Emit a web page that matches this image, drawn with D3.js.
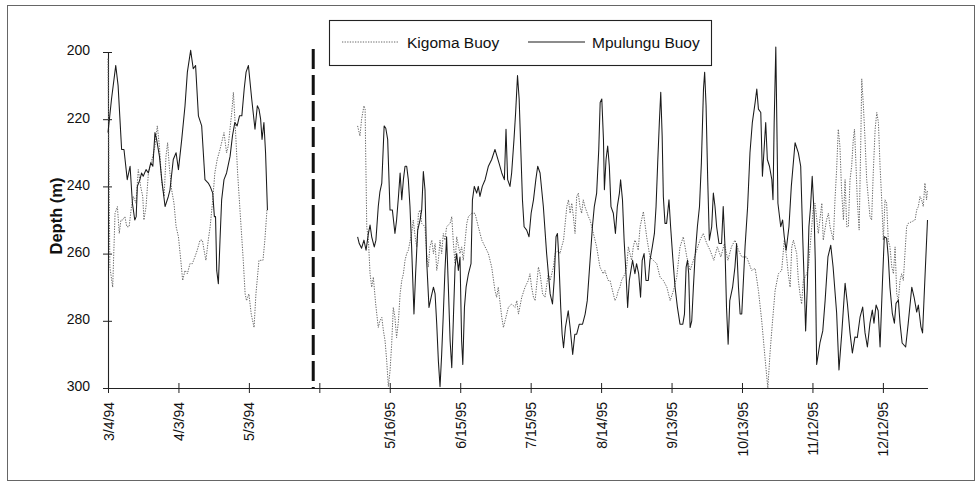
<!DOCTYPE html>
<html><head><meta charset="utf-8">
<script src="https://cdn.jsdelivr.net/npm/d3@7"></script>
<style>
html,body{margin:0;padding:0;background:#fff;}
svg{display:block;font-family:"Liberation Sans",Arial,Helvetica,sans-serif;}
</style></head><body>
<svg id="chart" width="976" height="482"></svg>
<script>
// Category axis: one category per day, labelled every 30 categories.
const tickLabels = ["3/4/94","4/3/94","5/3/94","","5/16/95","6/15/95","7/15/95","8/14/95","9/13/95","10/13/95","11/12/95","12/12/95"];
const tickEvery = 30;
const categoryCount = 350;
const yTicks = [200, 220, 240, 260, 280, 300];
const yTitle = "Depth (m)";
const seriesNames = ["Kigoma Buoy", "Mpulungu Buoy"];
// category position of the break between the 1994 and 1995 records
const breakCategory = 87.4;

// [category index, depth (m)]
const kigoma94 = [[0,202],[0.8,264],[2,270],[3,248],[4,246],[4.8,254],[5.5,250],[6.2,250],[7.2,249],[8,252],[9,252],[10,246],[10.8,243],[11.9,245],[12.9,235],[13.9,240],[14.8,243],[15.3,250],[16.2,246],[17.2,236],[17.9,234],[19.1,231],[20,228],[21,222],[21.9,228],[22.9,239],[23.9,243],[24.7,231],[25.4,227],[26.1,234],[27.1,241],[28.1,245],[29,252],[30,255],[31,262],[31.8,268],[32.8,265],[33.8,266],[34.9,263],[35.9,263],[37,261],[38,259],[39.2,256],[40.2,256],[40.9,259],[41.7,262],[42.7,256],[43.5,252],[44.6,244],[45.5,236],[46.5,232],[47.7,229],[49.4,224],[50.5,230],[51.2,228],[52.7,218],[53.4,212],[54.2,222],[55.2,236],[56.3,248],[57.6,262],[58.4,272],[59,274],[60,272],[61,278],[62.2,282],[63,272],[64.3,262],[65.2,262],[66,262],[66.8,256],[67.7,247]];
const mpulungu94 = [[0,224],[1.5,214],[3.3,204],[4.3,210],[5.8,229],[6.8,229],[8.2,238],[9.4,234],[10.4,245],[11.4,250],[12,249],[12.5,240],[13.6,238],[14.3,236],[15,237],[16.2,235],[17.2,236],[18.2,233],[19.1,234],[20,224],[20.7,226],[21.9,231],[22.9,238],[24.3,246],[25.7,243],[26.4,241],[27.8,232],[29,230],[30,235],[31.4,226],[32.8,216],[33.8,206],[35.2,199.5],[36.3,205],[37.3,204],[38.5,219],[39.9,222],[41.3,238],[42.7,239],[43.5,240],[44.6,242],[45.3,249],[45.8,249],[46.3,265],[47,269],[47.7,256],[48.4,244],[49.4,238],[50.5,236],[52,231],[53,225],[54,221],[55,222],[56,219],[57,219],[58,211],[58.8,206],[59.8,204],[61.2,214],[62.6,223],[63.6,216],[64.3,217],[65,220],[65.6,226],[66.4,221],[67.1,230],[67.9,247]];
const kigoma95 = [[106.3,222],[107.3,225],[108,220],[109,216],[109.5,217],[109.7,228],[110.2,252],[110.9,256],[111.6,266],[112.3,270],[113,267],[114,275],[115.1,282],[115.8,280],[116.6,279],[117.3,283],[118,286],[118.7,292],[119.4,299.6],[120.1,295],[120.8,287],[121.5,276],[122.2,279],[122.9,285],[123.7,280],[124.4,272],[125.1,268],[125.8,266],[126.5,262],[127.2,260],[127.9,259],[129.3,254],[130,250],[130.8,255],[131.5,258],[132.2,248],[132.9,247],[133.6,251],[135,252],[135.7,260],[136.4,264],[137.1,258],[137.9,256],[138.6,260],[139.3,257],[140,265],[140.7,262],[141.4,256],[142.1,260],[142.8,254],[143.5,256],[144.2,252],[145.7,251],[146.4,249],[147.1,257],[147.8,263],[148.5,255],[149.9,260],[150.6,258],[151.3,262],[152.1,256],[152.8,251],[153.5,249],[154.9,248],[156.3,248],[157.7,252],[159.2,256],[160.6,258],[162,260],[163.4,264],[164.8,271],[165.5,273],[166.2,270],[167.7,279],[168.4,282],[169.1,280],[169.8,278],[170.5,276],[171.9,275],[173.4,276],[174.1,274],[174.8,278],[176.2,273],[177.6,270],[179,268],[179.7,266],[180.4,270],[181.2,273],[181.9,274],[182.6,269],[183.3,264],[184,266],[185.1,272],[186.1,273],[187.5,266],[188.3,268],[189.7,264],[190.4,260],[191.8,259],[192.5,260],[193.2,258],[194,256],[195.4,246],[196.1,244],[196.8,248],[197.5,245],[198.2,249],[198.9,254],[199.6,243],[200.3,242],[201,246],[201.7,248],[202.4,244],[203.1,246],[204.6,249],[205.3,250],[206,252],[206.7,254],[207.4,256],[208.1,258],[208.8,261],[209.5,264],[210.2,265],[210.9,266],[211.6,265],[213,268],[213.8,268],[214.5,270],[215.2,272],[215.9,274],[216.6,273],[217.3,271],[218,270],[218.7,268],[220.2,266],[220.9,264],[221.6,258],[222.3,260],[223,262],[223.7,258],[224.4,256],[225.1,257],[225.8,259],[226.6,252],[228,247.5],[229.4,255],[230.8,261],[232.2,262],[233.7,263],[235.1,267],[236.5,268],[238,270],[239.4,274],[240.8,271],[242.2,267],[243.6,258],[245,255],[246.5,261],[247.9,265],[249.3,262],[250.7,259],[252.1,256],[253.5,254],[255,257],[256.4,259],[258,262],[259.5,258],[261,261],[262.5,257],[264,262],[265.5,258],[267,256],[268.5,259],[269.9,261],[272,261],[274.1,265],[275.6,264.4],[277,271],[278.4,280],[279.8,291],[281,300],[282,289],[282.9,281],[284.1,271],[285.5,266],[286.9,265],[288,256],[289,261],[289.7,266],[290.5,270],[291.2,258],[291.9,256],[293.3,260],[294,268],[294.7,272],[295.4,275],[296.1,268],[297.6,266],[298.3,264],[299,258],[299.7,252],[300.4,246],[301.1,245],[302.5,254],[304,245],[304.6,256],[306,250],[306.8,248],[307.5,252],[308.9,256],[309.6,244],[310.3,235],[311,223],[311.7,228],[312.4,241],[313.2,250],[313.9,238],[314.6,252],[315.3,252],[316,238],[316.7,234],[317.4,226],[317.9,223],[318.4,231],[319.1,244],[319.9,253],[320.6,226],[321,208],[321.7,216],[322.4,226],[323.1,238],[324.5,249],[325.2,250],[325.9,236],[326.7,223],[327.4,218],[328.1,221],[328.8,234],[329.5,244],[330.2,256],[330.9,244],[331.6,245],[332.3,256],[333,258],[333.8,264],[334.5,266],[335.2,258],[335.9,272],[336.6,274],[337.3,268],[338,266],[338.7,268],[339.4,260],[340.1,252],[340.8,251],[342.3,250.5],[343.7,250],[344.4,247],[345.1,246],[345.8,243],[346.5,244],[347.2,246],[347.9,239],[348.6,244],[349,241]];
const mpulungu95 = [[106.3,255],[107,257],[108,258.4],[109,256],[109.9,259],[110.9,254],[111.6,251.5],[112.3,255],[113.4,258],[114.1,256],[115.1,246],[115.8,241.6],[116.6,239],[117.6,222],[118.3,222.7],[119.1,226],[120.1,247],[121.1,247],[122.2,254],[122.9,250],[123.7,243],[124.4,236],[125.1,244],[125.8,238],[126.5,234],[127.2,234],[127.9,238],[128.6,246],[129.3,258],[130.3,278],[131,266],[131.9,253],[132.9,250],[133.6,247],[134.3,235.6],[135,241],[135.7,262],[136.7,276],[137.6,273],[138.6,270],[139.3,272],[140,281],[140.7,292],[141.4,299.6],[142.1,290],[142.8,278],[143.5,265],[144.2,255],[144.9,269],[145.7,286],[146.4,294],[147.1,279],[147.8,264],[148.5,260],[149.2,265],[149.9,261],[150.6,286],[151.1,293],[151.8,276],[152.5,270],[153.5,266],[154.6,263],[155.2,244],[156,240],[157,242],[157.7,240],[158.4,243],[159.4,240],[160.6,238],[162,234],[163.4,232],[164.8,229],[166.5,233],[167.7,236],[168.8,238],[169.5,223],[170.2,238],[171.2,240],[171.9,236],[172.9,226],[173.6,218],[174.4,207],[175.1,214],[175.8,229],[176.5,244],[177.2,252],[178.3,253],[179.3,255],[180.2,248],[181.2,244],[182.2,238],[183,234],[184,236],[185.4,246],[186.8,260],[188.3,272],[189.3,275],[190,268],[190.8,255],[191.4,254],[191.9,260],[192.8,276],[193.4,284],[194,288],[194.8,282],[196,277],[196.8,282],[197.9,290],[198.8,284],[199.6,284],[200.7,281],[202.1,281],[203.2,278],[204.1,274],[205.3,262],[206.3,252],[207.1,246],[208.1,242],[209,229],[209.6,215],[210.3,214],[211,226],[211.4,241],[212.1,232],[212.8,228],[213.5,234],[214.2,246],[215.2,248],[216.1,254],[216.9,246],[217.8,242],[218.3,238],[219.1,244],[219.8,256],[220.6,266],[221.3,276],[222,268],[222.7,265],[223.4,262],[224.4,266],[225.1,263],[226,266],[226.8,273],[227.5,262],[228.3,260],[229.1,268],[230.1,268],[230.8,262],[231.8,258],[232.7,254],[233.4,246],[234.1,233],[234.8,221],[235.4,212],[236,225],[236.5,243],[237.2,251],[237.9,251],[238.9,244],[239.6,252],[240.5,261],[241.5,270],[242.5,276],[243.6,281],[244.8,281],[245.5,278],[246.2,264],[246.8,262],[247.3,266],[247.9,282],[248.6,280],[249.3,270],[250,261],[251,252],[251.9,246],[252.7,233],[253.6,211],[254.1,206],[254.7,216],[255.4,238],[256.1,256],[257.1,252],[257.8,242],[258.5,246],[259.2,252],[260.2,257],[261.3,257],[262,246],[262.7,257],[263.4,276],[264.1,287],[264.8,274],[266,270],[267,264],[267.7,257],[268.5,270],[269.2,278],[269.9,278],[270.6,268],[271.3,258],[272.4,246],[273.4,230],[274.4,221],[275.6,215],[276.3,211],[277,217],[278,218],[278.7,237],[279.4,229],[280.1,221],[280.8,232],[281.7,234],[282.7,238],[283.2,244],[283.7,221],[284.4,198.5],[285.3,245],[286.5,252],[287.3,250],[288,255],[288.8,259],[290,252],[291,240],[292.6,227],[294,230],[295,234],[295.9,256],[296.6,271],[297.1,283],[297.8,270],[298.5,252],[299.2,246],[299.9,237],[300.7,248],[301.2,262],[301.8,293],[303.2,286.6],[304.4,283],[305.4,274],[306.6,261],[307.8,257.5],[308.8,264],[310.3,277.6],[311.3,294.6],[312.5,283.6],[313.9,268.8],[314.9,275],[316,283.6],[317,289.6],[318.1,284.8],[319.1,285],[320.3,278.8],[321.4,275.9],[322.4,283.6],[323.4,287.8],[324.5,280.7],[325.5,276.8],[326.2,280.7],[327.1,275.3],[328,277],[328.8,287.8],[329.8,268.8],[330.6,255],[331.6,255.4],[332.3,261],[333,270],[334,277.7],[334.9,280.7],[335.6,274.8],[336.6,273.8],[337.3,280.7],[338.2,286.6],[339.7,287.8],[340.8,280.7],[342.3,270],[343.3,273],[344.4,277.4],[345.1,275.3],[346.2,281.8],[346.9,283.6],[348,265.8],[349,250]];

const svg = d3.select("#chart");
const W = 976, H = 482;

// chart area border
svg.append("rect").attr("x", 7.5).attr("y", 5.5).attr("width", W - 9).attr("height", 475)
  .attr("fill", "none").attr("stroke", "#666").attr("stroke-width", 1);

const x = d3.scaleLinear().domain([0, categoryCount - 1]).range([108, 927.5]);
const y = d3.scaleLinear().domain([yTicks[0], yTicks[yTicks.length - 1]]).range([52, 388]);

// y axis
const yAxis = svg.append("g").attr("transform", `translate(${x(0)},0)`)
  .call(d3.axisLeft(y).tickValues(yTicks).tickSizeOuter(0).tickPadding(12));
yAxis.select(".domain").attr("stroke", "#222").attr("stroke-width", 1.1);
yAxis.selectAll(".tick line").attr("x1", -5).attr("x2", 4).attr("stroke", "#222");
yAxis.selectAll(".tick text").attr("font-size", 14).attr("fill", "#111").attr("dy", "0.2em")
  .attr("font-family", "'Liberation Sans',Arial,sans-serif");

// x axis
const xTickVals = tickLabels.map((_, i) => i * tickEvery);
const xAxis = svg.append("g").attr("transform", `translate(0,${y(yTicks[yTicks.length - 1])})`)
  .call(d3.axisBottom(x).tickValues(xTickVals).tickFormat((d, i) => tickLabels[i]).tickSizeOuter(0));
xAxis.select(".domain").attr("stroke", "#222").attr("stroke-width", 1.1);
xAxis.selectAll(".tick line").attr("y1", -5).attr("y2", 5).attr("stroke", "#222");
xAxis.selectAll(".tick text")
  .attr("transform", "rotate(-90)")
  .attr("text-anchor", "end")
  .attr("x", -14).attr("y", 0).attr("dy", "0.36em")
  .attr("font-size", 14).attr("fill", "#111")
  .attr("font-family", "'Liberation Sans',Arial,sans-serif");

// y title
svg.append("text")
  .attr("transform", `translate(62,${(y(yTicks[0]) + y(yTicks[yTicks.length - 1])) / 2 - 4}) rotate(-90)`)
  .attr("text-anchor", "middle")
  .attr("font-size", 16.5).attr("font-weight", "bold").attr("fill", "#111")
  .text(yTitle);

// break between the two deployments
svg.append("line")
  .attr("x1", x(breakCategory)).attr("x2", x(breakCategory))
  .attr("y1", 49).attr("y2", y(yTicks[yTicks.length - 1]))
  .attr("stroke", "#111").attr("stroke-width", 3).attr("stroke-dasharray", "20 6");

const line = d3.line().x(d => x(d[0])).y(d => y(d[1]));
const styles = [
  { stroke: "#666", width: 1, dash: "1.3 1.3" },
  { stroke: "#1a1a1a", width: 1.05, dash: null }
];

[[kigoma94, 0], [kigoma95, 0], [mpulungu94, 1], [mpulungu95, 1]].forEach(([data, s]) => {
  svg.append("path").datum(data)
    .attr("d", line)
    .attr("fill", "none")
    .attr("stroke", styles[s].stroke)
    .attr("stroke-width", styles[s].width)
    .attr("stroke-linejoin", "round")
    .attr("stroke-dasharray", styles[s].dash);
});

// legend
const lg = svg.append("g");
lg.append("rect").attr("x", 329.5).attr("y", 20.5).attr("width", 382).attr("height", 45)
  .attr("fill", "#fff").attr("stroke", "#222").attr("stroke-width", 1.1);
const legendItems = [
  { x1: 342, x2: 398, tx: 407 },
  { x1: 528, x2: 585, tx: 592 }
];
legendItems.forEach((it, i) => {
  lg.append("line").attr("x1", it.x1).attr("x2", it.x2).attr("y1", 42).attr("y2", 42)
    .attr("stroke", styles[i].stroke).attr("stroke-width", styles[i].width)
    .attr("stroke-dasharray", styles[i].dash);
  lg.append("text").attr("x", it.tx).attr("y", 47.5)
    .attr("font-size", 15.5).attr("fill", "#111").text(seriesNames[i]);
});
</script>
</body></html>
